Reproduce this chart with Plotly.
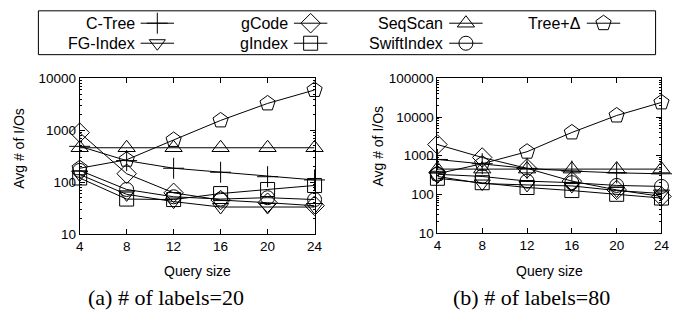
import plotly.graph_objects as go

W, H = 697, 321

query_size = [4, 8, 12, 16, 20, 24]

series_names = ["C-Tree", "FG-Index", "gCode", "gIndex", "SeqScan", "SwiftIndex", "Tree+Δ"]

# (a) # of labels = 20
ctree_20 = [490, 260, 185, 155, 127, 110]
fgindex_20 = [140, 58, 42, 33, 33, 33]
gcode_20 = [900, 145, 62, 45, 40, 35]
gindex_20 = [120, 47, 46, 60, 72, 86]
seqscan_20 = [460, 460, 460, 460, 460, 460]
swift_20 = [168, 72, 52, 47, 50, 46]
treedelta_20 = [185, 270, 650, 1550, 3300, 6000]

# (b) # of labels = 80
ctree_80 = [800, 620, 470, 400, 360, 340]
fgindex_80 = [290, 190, 175, 165, 125, 105]
gcode_80 = [1950, 900, 470, 220, 130, 88]
gindex_80 = [260, 200, 150, 125, 100, 80]
seqscan_80 = [450, 450, 450, 450, 450, 450]
swift_80 = [330, 290, 220, 200, 170, 160]
treedelta_80 = [340, 620, 1270, 4000, 11000, 24000]

data_20 = [ctree_20, fgindex_20, gcode_20, gindex_20, seqscan_20, swift_20, treedelta_20]
data_80 = [ctree_80, fgindex_80, gcode_80, gindex_80, seqscan_80, swift_80, treedelta_80]

symbols = ["cross-thin-open", "triangle-down-open", "diamond-open", "square-open",
           "triangle-up-open", "circle-open", "pentagon-open"]
sizes = [15, 14, 15, 14, 15, 14, 16]

x_ticks = [4, 8, 12, 16, 20, 24]
y_ticks_a = [10, 100, 1000, 10000]
y_ticks_b = [10, 100, 1000, 10000, 100000]
minor_mult = [2, 3, 4, 5, 6, 7, 8, 9]

SANS = "Liberation Sans, Arial, sans-serif"
SERIF = "Liberation Serif, Times New Roman, serif"

LEG_H = 56  # pixel height of the legend strip at the top

def px(xp):
    return xp / W

def py(yp):
    return 1 - yp / H

fig = go.Figure()

def add_series(vals_list, xa, ya):
    for name, vals, sym, sz in zip(series_names, vals_list, symbols, sizes):
        fig.add_trace(go.Scatter(
            x=query_size, y=vals, mode="lines+markers", name=name,
            xaxis=xa, yaxis=ya, showlegend=False, cliponaxis=False,
            line=dict(color="black", width=1),
            marker=dict(symbol=sym, size=sz, color="black",
                        line=dict(color="black", width=1)),
        ))

add_series(data_20, "x", "y")
add_series(data_80, "x2", "y2")

# Manual legend (text left of sample, as in the reference)
legend_cols_text_right = [135, 291, 449, 589]
legend_rows_y = [17, 38]
legend_order = [
    (0, 0, 0), (0, 1, 2), (0, 2, 4), (0, 3, 6),
    (1, 0, 1), (1, 1, 3), (1, 2, 5),
]
ann = []
for r, c, i in legend_order:
    tx = legend_cols_text_right[c]
    ty = legend_rows_y[r]
    ann.append(dict(x=px(tx), y=py(ty), xref="paper", yref="paper", text=series_names[i],
                    showarrow=False, xanchor="right", yanchor="middle",
                    font=dict(family=SANS, size=16, color="black")))
    fig.add_trace(go.Scatter(
        x=[tx + 4, tx + 21, tx + 38], y=[ty, ty, ty], xaxis="x3", yaxis="y3",
        mode="lines", line=dict(color="black", width=1), showlegend=False,
        hoverinfo="skip", cliponaxis=False))
    fig.add_trace(go.Scatter(
        x=[tx + 21], y=[ty], xaxis="x3", yaxis="y3", mode="markers",
        marker=dict(symbol=symbols[i], size=sizes[i], color="black",
                    line=dict(color="black", width=1)),
        showlegend=False, hoverinfo="skip", cliponaxis=False))

# Axis titles and captions
def pann(x, y, text, family=SANS, size=13, angle=0):
    return dict(x=px(x), y=py(y), xref="paper", yref="paper", text=text,
                showarrow=False, textangle=angle, xanchor="center", yanchor="middle",
                font=dict(family=family, size=size, color="black"))

ann += [
    pann(197, 277, "Query size", size=14),
    pann(555, 277, "Query size", size=14),
    pann(15, 148, "Avg # of I/Os", size=14, angle=-90),
    pann(381, 146, "Avg # of I/Os", size=14, angle=-90),
    pann(165, 305, "(a) # of labels=20", family=SERIF, size=22),
    pann(537, 305, "(b) # of labels=80", family=SERIF, size=22),
]

def ydom(top, bottom):
    return [1 - bottom / H, 1 - top / H]

def minor_vals(ticks):
    return [m * t for t in ticks[:-1] for m in minor_mult]

common_x = dict(type="linear", range=[4, 24], tickvals=x_ticks, ticks="inside",
                ticklen=5, tickcolor="black", showline=True, linecolor="black",
                linewidth=1, mirror="allticks", showgrid=False, zeroline=False,
                tickfont=dict(family=SANS, size=13.5, color="black"))
common_y = dict(type="log", ticks="inside", ticklen=5, tickcolor="black",
                showline=True, linecolor="black", linewidth=1, mirror="allticks",
                showgrid=False, zeroline=False,
                tickfont=dict(family=SANS, size=13.5, color="black"))

fig.update_layout(
    width=W, height=H, margin=dict(l=0, r=0, t=0, b=0),
    paper_bgcolor="white", plot_bgcolor="rgba(0,0,0,0)", showlegend=False,
    xaxis=dict(domain=[px(77), px(316)], anchor="y", **common_x),
    yaxis=dict(domain=ydom(75, 238), anchor="x", range=[1, 4],
               tickvals=y_ticks_a, ticktext=[str(v) for v in y_ticks_a],
               minor=dict(tickmode="array", tickvals=minor_vals(y_ticks_a), ticks="inside",
                          ticklen=2, tickcolor="black", showgrid=False),
               **common_y),
    xaxis2=dict(domain=[px(441), px(669)], anchor="y2", **common_x),
    yaxis2=dict(domain=ydom(75, 237), anchor="x2", range=[1, 5],
                tickvals=y_ticks_b, ticktext=[str(v) for v in y_ticks_b],
                minor=dict(tickmode="array", tickvals=minor_vals(y_ticks_b), ticks="inside",
                           ticklen=2, tickcolor="black", showgrid=False),
                **common_y),
    xaxis3=dict(domain=[0, 1], range=[0, W], visible=False, anchor="y3",
                fixedrange=True),
    yaxis3=dict(domain=ydom(0, LEG_H), range=[LEG_H, 0], visible=False, anchor="x3",
                fixedrange=True),
    annotations=ann,
    shapes=[dict(type="rect", xref="paper", yref="paper",
                 x0=px(35), x1=px(663), y0=py(50), y1=py(4),
                 line=dict(color="black", width=1))],
)

fig.write_html("out.html")
